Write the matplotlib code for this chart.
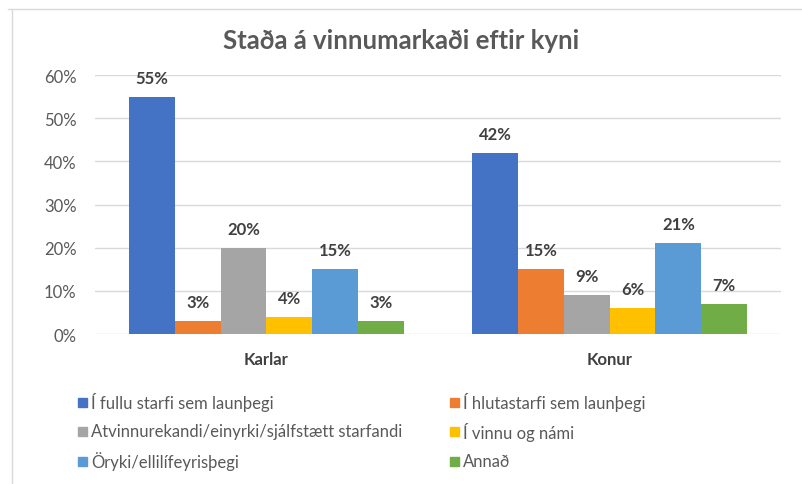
import numpy as np
import matplotlib
matplotlib.use('Agg')
import matplotlib.pyplot as plt
from matplotlib.patches import Rectangle

plt.rcParams['font.family'] = ['Lato', 'DejaVu Sans']

# Data
groups = ['Karlar', 'Konur']
series = [
    'Í fullu starfi sem launþegi',
    'Í hlutastarfi sem launþegi',
    'Atvinnurekandi/einyrki/sjálfstætt starfandi',
    'Í vinnu og námi',
    'Öryki/ellilífeyrisþegi',
    'Annað',
]
karlar = [0.55, 0.03, 0.20, 0.04, 0.15, 0.03]
konur = [0.42, 0.15, 0.09, 0.06, 0.21, 0.07]
colors = ['#4472C4', '#ED7D31', '#A5A5A5', '#FFC000', '#5B9BD5', '#70AD47']
yticks = [0, 0.1, 0.2, 0.3, 0.4, 0.5, 0.6]

W, H = 803, 485
fig = plt.figure(figsize=(W / 100, H / 100), dpi=100)
ax = fig.add_axes([0.118, 0.309, 0.855, 0.534])

x = np.arange(len(groups))
n = len(series)
width = 0.8 / n
values = np.array([karlar, konur])

for i, name in enumerate(series):
    pos = x - 0.4 + width * (i + 0.5)
    bars = ax.bar(pos, values[:, i], width=width, color=colors[i], label=name, zorder=3)
    for b in bars:
        ax.annotate(f"{b.get_height() * 100:.0f}%",
                    (b.get_x() + b.get_width() / 2, b.get_height()),
                    xytext=(0, 8), textcoords='offset points',
                    ha='center', va='bottom', fontsize=12, fontweight='bold',
                    color='#404040')

ax.set_xlim(-0.5, 1.5)
ax.set_ylim(0, 0.6)
ax.set_yticks(yticks)
ax.set_yticklabels([f"{v * 100:.0f}%" for v in yticks])
ax.set_xticks(x)
ax.set_xticklabels(groups, fontweight='bold')
ax.tick_params(axis='y', length=0, pad=13, labelsize=12, labelcolor='#595959')
ax.tick_params(axis='x', length=0, pad=12, labelsize=12, labelcolor='#404040')
ax.grid(axis='y', color='#D9D9D9', linewidth=1, zorder=0)
for s in ax.spines.values():
    s.set_visible(False)

fig.suptitle('Staða á vinnumarkaði eftir kyni', y=0.94, fontsize=18.5,
             fontweight='bold', color='#595959')

# legend laid out row by row, two columns (pixel positions of the reference)
col_x = [78, 450]
row_y = [403, 432, 462]
sq = 9
for i, name in enumerate(series):
    cx = col_x[i % 2]
    cy = row_y[i // 2]
    fig.add_artist(Rectangle(((cx) / W, 1 - (cy + sq / 2) / H), sq / W, sq / H,
                             transform=fig.transFigure, color=colors[i]))
    fig.text((cx + sq + 4) / W, 1 - cy / H, name, ha='left', va='center',
             fontsize=12, color='#595959')

# light frame around chart area
fig.add_artist(plt.Line2D([0.01, 1.0], [0.98, 0.98], color='#D9D9D9', lw=1))
fig.add_artist(plt.Line2D([0.015, 0.015], [0.0, 0.98], color='#D9D9D9', lw=1))

fig.savefig('out.png', dpi=100)
